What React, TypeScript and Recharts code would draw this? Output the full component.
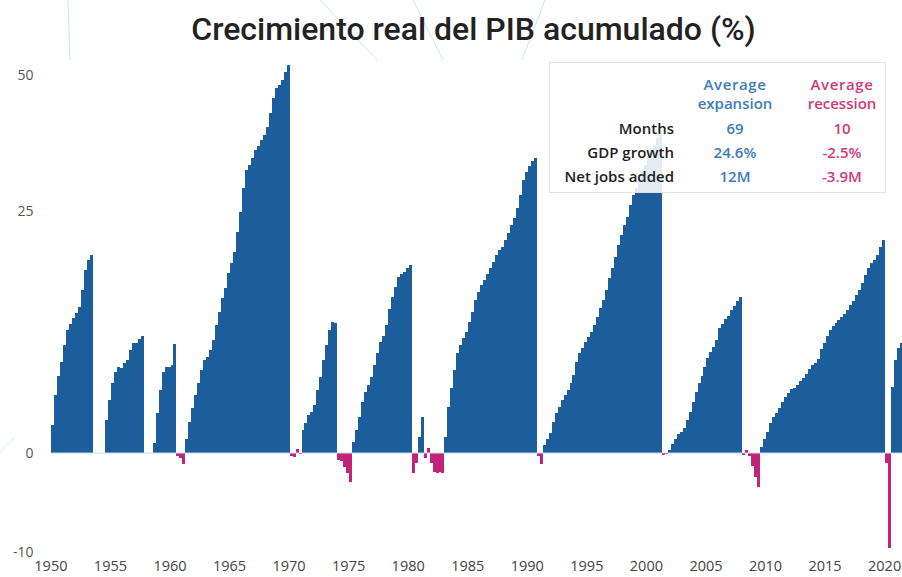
import React from "react";
import { BarChart, Bar, Cell, XAxis, YAxis, ReferenceLine } from "recharts";

const AZUL = "#1b5e9b";
const ROSA = "#c4237a";
const FUENTE = "'Open Sans', 'Noto Sans', sans-serif";

// Un valor por trimestre desde 1950 T1: crecimiento real acumulado (%) de cada fase
const exp1950 = [2.9, 6.0, 8.0, 9.4, 11.2, 12.7, 13.3, 13.9, 14.5, 15.1, 16.8, 18.9, 19.9, 20.5];
const rec1953 = [0, 0, 0, 0];
const exp1954 = [3.4, 5.5, 7.2, 8.4, 8.9, 8.8, 9.3, 9.6, 10.6, 11.4, 11.4, 11.8, 12.1];
const rec1957 = [0, 0, 0];
const exp1958 = [1.0, 4.1, 6.5, 8.4, 8.9, 8.9, 9.1, 11.3];
const rec1960 = [-0.3, -0.5, -1.1];
const exp1961 = [
  1.5, 3.2, 4.6, 6.0, 7.2, 8.6, 9.6, 9.9, 10.6, 11.7, 13.2, 14.6, 16.0, 17.0, 18.6, 19.6, 20.8, 22.8,
  24.9, 29.2, 32.5, 33.5, 34.7, 36.2, 37.0, 38.1, 39.0, 40.4, 43.0, 45.8, 47.6, 48.2, 49.1, 50.6, 51.8,
];
const rec1970 = [-0.3, -0.4, 0.4, -0.1];
const exp1971 = [2.4, 3.1, 3.9, 4.2, 5.0, 6.5, 7.9, 9.6, 11.2, 12.7, 13.5, 13.4];
const rec1974 = [-0.7, -0.8, -1.4, -2.0, -2.9];
const exp1975 = [1.1, 2.4, 3.7, 5.3, 6.3, 7.0, 7.9, 9.1, 10.3, 11.5, 12.1, 13.2, 14.9, 16.1, 17.1, 18.2, 18.5, 18.7, 19.1, 19.4];
const rec1980 = [-2.0, -1.0];
const exp1980 = [1.7, 3.7];
const rec1981 = [-0.5, 0.5, -1.0, -1.9, -2.0, -1.9, -2.0];
const exp1983 = [
  1.7, 4.8, 6.7, 8.6, 10.3, 11.2, 11.9, 12.5, 13.5, 14.6, 15.8, 16.6, 17.4, 17.9, 18.5, 19.1, 19.7, 20.5,
  21.0, 21.3, 22.0, 22.7, 23.6, 24.3, 25.6, 27.9, 30.7, 32.2, 33.3, 34.2, 34.7,
];
const rec1990 = [-0.3, -1.1];
const exp1991 = [
  0.8, 1.5, 2.1, 3.2, 4.1, 4.8, 5.5, 6.0, 6.5, 7.2, 8.1, 9.4, 10.3, 10.8, 11.5, 12.0, 12.5, 13.2, 14.0, 15.0,
  15.8, 16.8, 18.1, 19.1, 20.2, 21.5, 22.5, 23.6, 24.4, 26.1, 27.9, 29.2, 30.7, 32.2, 33.5, 34.7, 36.2, 37.1, 38.4, 39.5,
];
const rec2001 = [-0.2, -0.1];
const exp2001 = [
  0.3, 0.9, 1.5, 2.0, 2.2, 2.6, 3.4, 4.2, 5.3, 6.3, 7.2, 8.0, 8.9, 9.8, 10.4, 11.0, 11.7, 12.9, 13.3, 13.8,
  14.2, 14.8, 15.2, 15.7, 16.1,
];
const rec2008 = [-0.2, 0.3, -0.3, -1.3, -2.4, -3.4];
const exp2009 = [
  0.6, 1.5, 2.2, 3.1, 3.7, 4.1, 4.6, 5.3, 5.8, 6.2, 6.6, 6.7, 7.0, 7.4, 7.8, 8.2, 8.7, 9.1, 9.3, 9.7, 10.7,
  11.4, 12.1, 12.7, 13.1, 13.4, 13.7, 14.0, 14.4, 14.8, 15.3, 15.7, 16.3, 16.8, 17.6, 18.4, 19.1, 19.6, 19.9,
  20.5, 21.3, 22.0,
];
const rec2020 = [-1.0, -9.6];
const exp2020 = [6.8, 9.6, 10.8, 11.4];

const tramos: [string, number[]][] = [
  ["E", exp1950], ["R", rec1953], ["E", exp1954], ["R", rec1957], ["E", exp1958], ["R", rec1960],
  ["E", exp1961], ["R", rec1970], ["E", exp1971], ["R", rec1974], ["E", exp1975], ["R", rec1980],
  ["E", exp1980], ["R", rec1981], ["E", exp1983], ["R", rec1990], ["E", exp1991], ["R", rec2001],
  ["E", exp2001], ["R", rec2008], ["E", exp2009], ["R", rec2020], ["E", exp2020],
];

const aniosEje = ["1950", "1955", "1960", "1965", "1970", "1975", "1980", "1985", "1990", "1995", "2000", "2005", "2010", "2015", "2020"];
const ticksY = [-10, 0, 25, 50];

const filasTabla = ["Months", "GDP growth", "Net jobs added"];
const valoresExpansion = ["69", "24.6%", "12M"];
const valoresRecesion = ["10", "-2.5%", "-3.9M"];

type Punto = { trimestre: string; valor: number; fase: string };
const datos: Punto[] = [];
tramos.forEach(([fase, vals]) => {
  vals.forEach((v) => {
    const n = datos.length;
    datos.push({ trimestre: `${1950 + Math.floor(n / 4)}-T${(n % 4) + 1}`, valor: v, fase });
  });
});

// El eje del original no es lineal: el tramo por encima de 25 está comprimido
function deformar(v: number) {
  if (v <= 0) return v * 9.9;
  if (v <= 25) return v * 9.68;
  return 242 + (v - 25) * 5.44;
}
function escalaQuebrada(dom: number[] = [0, 1], rng: number[] = [0, 1]): any {
  const s: any = (v: number) => {
    const a = deformar(dom[0]);
    const b = deformar(dom[1]);
    return rng[0] + ((deformar(Number(v)) - a) / (b - a)) * (rng[1] - rng[0]);
  };
  s.domain = (d?: number[]) => (d ? ((dom = d.map(Number)), s) : dom.slice());
  s.range = (r?: number[]) => (r ? ((rng = r.map(Number)), s) : rng.slice());
  s.copy = () => escalaQuebrada(dom.slice(), rng.slice());
  s.ticks = () => ticksY.slice();
  s.tickFormat = () => (v: number) => String(v);
  s.nice = () => s;
  s.clamp = () => s;
  s.invert = (px: number) => {
    let lo = dom[0];
    let hi = dom[1];
    for (let k = 0; k < 40; k++) {
      const mid = (lo + hi) / 2;
      if ((s(mid) - px) * (s(hi) - s(lo)) < 0) lo = mid;
      else hi = mid;
    }
    return (lo + hi) / 2;
  };
  return s;
}

function Tabla() {
  const celda = (top: number, left: number, width: number, align: "left" | "right" | "center") => ({
    position: "absolute" as const,
    top,
    left,
    width,
    textAlign: align,
    lineHeight: "18px",
    whiteSpace: "nowrap" as const,
  });
  return (
    <div
      style={{
        position: "absolute",
        left: 549,
        top: 62,
        width: 335,
        height: 129,
        border: "1px solid #e2e2e2",
        background: "rgba(255,255,255,0.88)",
        fontFamily: FUENTE,
        fontWeight: 600,
        fontSize: 15,
      }}
    >
      <div style={{ ...celda(12, 135, 100, "center"), color: "#3d7cc0", letterSpacing: 0.6 }}>Average</div>
      <div style={{ ...celda(31, 135, 100, "center"), color: "#3d7cc0" }}>expansion</div>
      <div style={{ ...celda(12, 242, 100, "center"), color: "#d03a7a", letterSpacing: 0.6 }}>Average</div>
      <div style={{ ...celda(31, 242, 100, "center"), color: "#d03a7a" }}>recession</div>
      {filasTabla.map((f, i) => (
        <React.Fragment key={f}>
          <div style={{ ...celda(56 + i * 24, 0, 124, "right"), color: "#1e1e1e" }}>{f}</div>
          <div style={{ ...celda(56 + i * 24, 135, 100, "center"), color: "#3d7cc0" }}>{valoresExpansion[i]}</div>
          <div style={{ ...celda(56 + i * 24, 242, 100, "center"), color: "#d03a7a" }}>{valoresRecesion[i]}</div>
        </React.Fragment>
      ))}
    </div>
  );
}

export default function App() {
  return (
    <div
      style={{
        position: "absolute",
        left: 0,
        top: 0,
        width: 902,
        height: 577,
        overflow: "hidden",
        background: "#fff",
        fontFamily: FUENTE,
      }}
    >
      <style>{`.recharts-bar-rectangle path { shape-rendering: crispEdges; }`}</style>
      <svg width={902} height={577} style={{ position: "absolute", left: 0, top: 0 }}>
        <g stroke="#cfe7e3" strokeWidth={1}>
          <line x1={68} y1={0} x2={70} y2={60} />
          <line x1={320} y1={0} x2={377} y2={60} />
          <line x1={413} y1={0} x2={443} y2={60} />
          <line x1={545} y1={0} x2={522} y2={60} />
          <line x1={0} y1={452} x2={14} y2={438} />
        </g>
      </svg>
      <div
        style={{
          position: "absolute",
          left: 0,
          top: 13,
          width: 947,
          textAlign: "center",
          fontFamily: "Roboto, sans-serif",
          fontWeight: 500,
          fontSize: 32,
          lineHeight: "32px",
          color: "#222",
        }}
      >
        Crecimiento real del PIB acumulado (%)
      </div>
      <div style={{ position: "absolute", left: 0, top: 0 }}>
        <BarChart
          width={903}
          height={577}
          data={datos}
          margin={{ top: 64.1, right: 0, bottom: 0, left: 0 }}
          barCategoryGap={0}
          barGap={0}
        >
          <XAxis
            dataKey="trimestre"
            ticks={aniosEje.map((a) => `${a}-T1`)}
            interval={0}
            tickFormatter={(v: string) => v.slice(0, 4)}
            axisLine={false}
            tickLine={false}
            tickSize={5}
            tickMargin={0}
            height={21}
            tick={{ fill: "#444", fontSize: 14.5, fontFamily: FUENTE, dx: -2 }}
          />
          <YAxis
            type="number"
            scale={escalaQuebrada()}
            domain={[-10.4, 52]}
            ticks={ticksY}
            interval={0}
            axisLine={false}
            tickLine={false}
            tickMargin={12}
            width={51.4}
            tick={{ fill: "#555", fontSize: 14, fontFamily: FUENTE }}
          />
          <ReferenceLine y={0} stroke="#cbd8e6" strokeWidth={1} />
          <Bar dataKey="valor" isAnimationActive={false}>
            {datos.map((d, i) => (
              <Cell key={i} fill={d.fase === "E" ? AZUL : ROSA} />
            ))}
          </Bar>
        </BarChart>
      </div>
      <Tabla />
    </div>
  );
}
